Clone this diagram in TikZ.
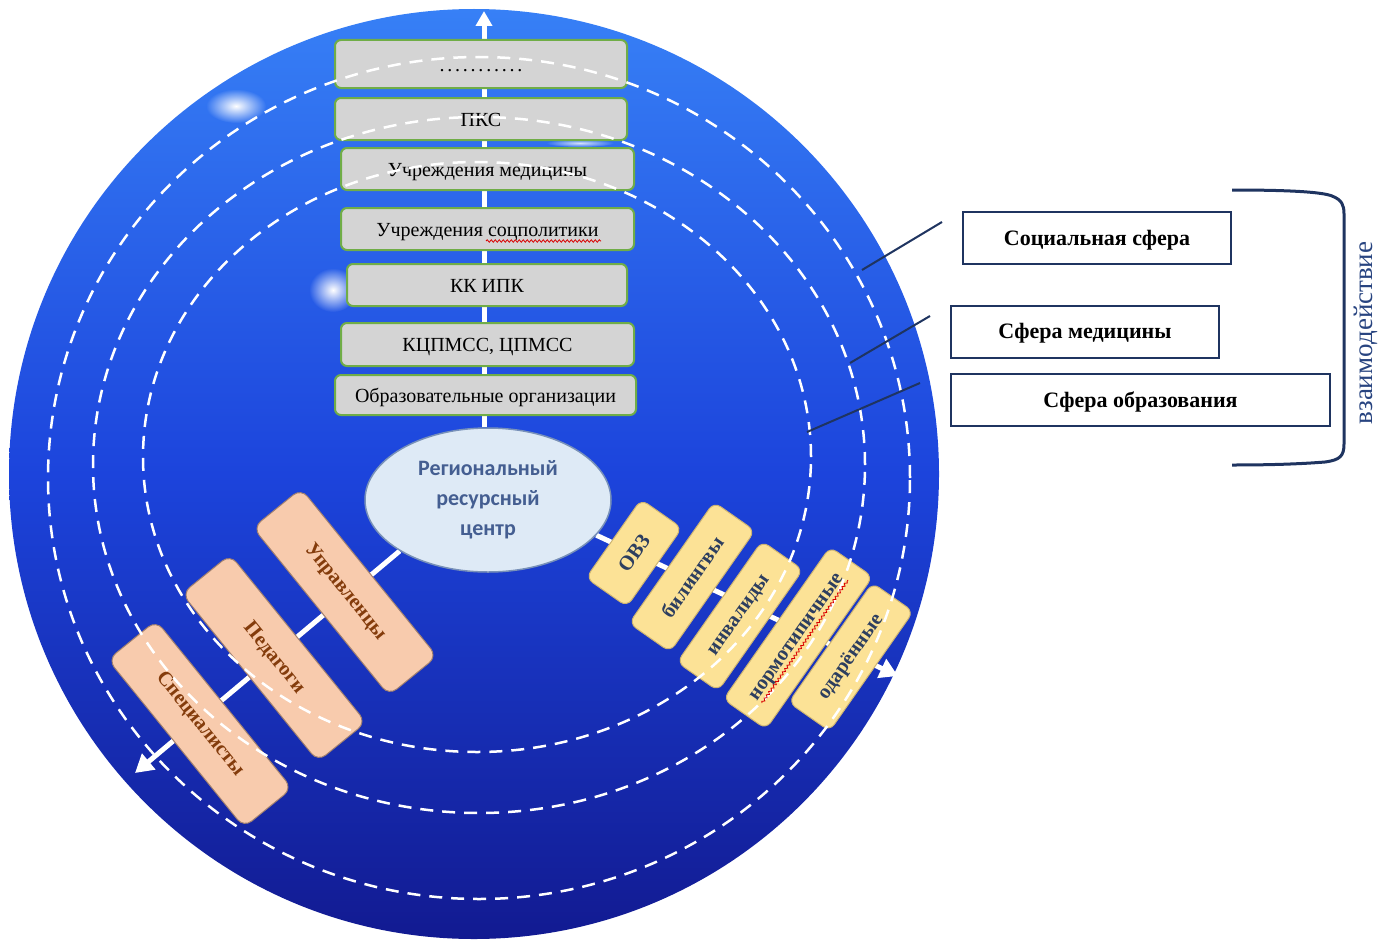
\documentclass[tikz,border=0pt]{standalone}
\usepackage{fontspec}
\setmainfont{Liberation Serif}
\newfontfamily\cfont{Carlito}
\usetikzlibrary{arrows.meta,fadings,decorations.pathmorphing,shapes.geometric}
\pgfdeclarelayer{bg}
\pgfsetlayers{bg,main}
\definecolor{grayfill}{RGB}{212,212,212}
\definecolor{greenedge}{RGB}{112,173,71}
\definecolor{peach}{RGB}{248,203,173}
\definecolor{peachedge}{RGB}{160,128,112}
\definecolor{brownt}{RGB}{132,60,12}
\definecolor{yel}{RGB}{252,226,150}
\definecolor{yeledge}{RGB}{205,180,115}
\definecolor{slate}{RGB}{45,62,95}
\definecolor{navy}{RGB}{31,52,96}
\definecolor{navytext}{RGB}{40,68,128}
\definecolor{ellfill}{RGB}{222,234,246}
\definecolor{elledge}{RGB}{120,145,185}
\definecolor{elltext}{RGB}{68,94,145}
\definecolor{sphTop}{RGB}{55,128,246}
\definecolor{sphMid}{RGB}{28,68,220}
\definecolor{sphBot}{RGB}{18,26,145}
\tikzfading[name=glowfade, inner color=transparent!0, outer color=transparent!100]
\begin{document}
\begin{tikzpicture}[x=1pt,y=-1pt,
  gbox/.style={draw=greenedge, line width=2pt, fill=grayfill, rounded corners=6pt,
    font=\fontsize{20}{24}\selectfont, inner sep=0pt, text=black,
    text height=18pt, text depth=4pt},
  pbox/.style={draw=peachedge, line width=1pt, fill=peach, rounded corners=10pt,
    font=\bfseries\fontsize{20.5}{24}\selectfont, text=brownt,
    minimum width=216pt, minimum height=62pt, rotate=-51, inner sep=0pt},
  ybox/.style={draw=yeledge, line width=1pt, fill=yel, rounded corners=8pt,
    font=\bfseries\fontsize{20.5}{24}\selectfont, text=slate,
    minimum height=50pt, rotate=55, inner sep=0pt},
  sbox/.style={draw=navy, line width=2pt, fill=white,
    font=\bfseries\fontsize{22}{26}\selectfont, minimum height=52pt, inner sep=0pt,
    text height=19pt, text depth=5pt},
  conn/.style={white, line width=5pt},
  ring/.style={white, line width=2.5pt, dash pattern=on 13pt off 9pt},
  tie/.style={navy, line width=2pt},
  spell/.style={red!85!black, line width=0.8pt, decorate,
    decoration={snake, amplitude=1.2pt, segment length=4pt}}]
\useasboundingbox (0,0) rectangle (1378,942);

% ---- vertical stack of grey boxes
\node[gbox, minimum width=292pt, minimum height=48pt] (g1) at (481,64)
  {{\addfontfeatures{LetterSpace=14}...........}};
\node[gbox, minimum width=292pt, minimum height=42pt] (g2) at (481,119) {ПКС};
\node[gbox, minimum width=293pt, minimum height=42pt] (g3) at (487.5,169) {Учреждения медицины};
\node[gbox, minimum width=293pt, minimum height=42pt] (g4) at (487.5,229) {Учреждения соцполитики};
\node[gbox, minimum width=280pt, minimum height=42pt] (g5) at (487,285) {КК ИПК};
\node[gbox, minimum width=293pt, minimum height=43pt] (g6) at (487.5,344.5) {КЦПМСС, ЦПМСС};
\node[gbox, minimum width=301pt, minimum height=40pt] (g7) at (485.5,395) {Образовательные организации};

% ---- centre
\node[ellipse, draw=elledge, line width=1.5pt, fill=ellfill, minimum width=246pt,
  minimum height=144pt, inner sep=0pt, align=center, text=elltext,
  font=\cfont\bfseries\fontsize{22}{30}\selectfont] (rrc) at (488,500)
  {Региональный\\ресурсный\\центр};

% ---- peach boxes
\node[pbox] (p1) at (345,592) {Управленцы};
\node[pbox] (p2) at (274,658) {Педагоги};
\node[pbox] (p3) at (200,724) {Специалисты};

% ---- yellow boxes
\node[ybox, minimum width=96pt] (y1) at (634,553) {ОВЗ};
\node[ybox, minimum width=148pt] (y2) at (692,577) {билингвы};
\node[ybox, minimum width=148pt] (y3) at (740,616) {инвалиды};
\node[ybox, minimum width=186pt, minimum height=52pt] (y4) at (798,638) {нормотипичные};
\node[ybox, minimum width=146pt] (y5) at (851,657) {одарённые};

% ---- background: sphere, glows, connectors
\begin{pgfonlayer}{bg}
\shade[top color=sphTop, bottom color=sphBot, middle color=sphMid] (474,474) circle (465pt);
\fill[white, path fading=glowfade] (236,106) ellipse (30pt and 17pt);
\fill[white, path fading=glowfade] (333,290) ellipse (24pt and 22pt);
\fill[white, path fading=glowfade, opacity=0.8] (580,143) ellipse (34pt and 4pt);
\coordinate (topTip) at (484,11);
\coordinate (llTip) at (135,773);
\coordinate (lrTip) at (898,676);
\draw[conn,-{Triangle[width=16pt,length=15pt]}] (rrc.north -| topTip) -- (topTip);
\draw[conn,-{Triangle[width=20pt,length=18pt]}] (rrc.210) -- (llTip);
\draw[conn,-{Triangle[width=20pt,length=18pt]}] (rrc.-18) -- (lrTip);
\end{pgfonlayer}

% ---- dashed rings on top
\draw[ring] (479,478) ellipse (431pt and 421pt);
\draw[ring] (479,465) ellipse (386pt and 348pt);
\draw[ring] (477,457) ellipse (334pt and 295pt);

% ---- spell-check marks
\draw[spell] (486,241) -- (601,241);
\draw[spell] (762,703) -- (848,580);

% ---- right side
\node[sbox, minimum width=268pt] (soc) at (1097,238) {Социальная сфера};
\node[sbox, minimum width=268pt] (med) at (1085,331.5) {Сфера медицины};
\node[sbox, minimum width=379pt] (obr) at (1140.5,400) {Сфера образования};
\coordinate (s1a) at (862,270); \coordinate (s1b) at (942,222);
\coordinate (s2a) at (850,363); \coordinate (s2b) at (930,316);
\coordinate (s3a) at (807,432); \coordinate (s3b) at (920,383);
\draw[tie] (s1a) -- (s1b);
\draw[tie] (s2a) -- (s2b);
\draw[tie] (s3a) -- (s3b);
\draw[navy, line width=3pt] (1232,190) .. controls (1290,190) and (1322,192) .. (1332,196)
  .. controls (1342,200) and (1344,205) .. (1344,214) -- (1344,444)
  .. controls (1344,456) and (1340,460) .. (1325,462)
  .. controls (1300,464) and (1270,465) .. (1232,465);
\node[rotate=90, text=navytext, font=\fontsize{27}{30}\selectfont] (vz) at (1366,333) {взаимодействие};
\end{tikzpicture}
\end{document}
